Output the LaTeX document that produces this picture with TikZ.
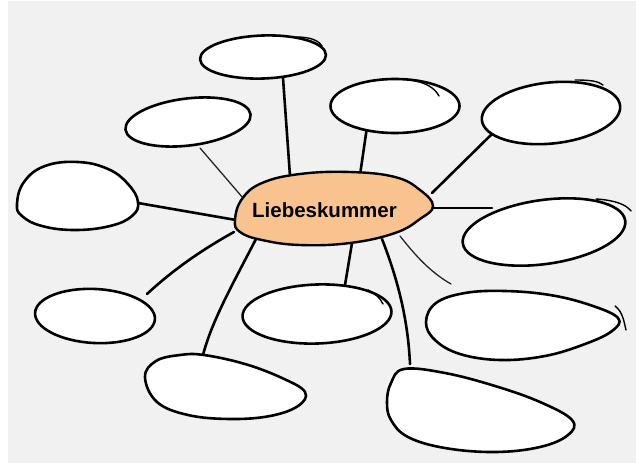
\documentclass[tikz,border=0pt]{standalone}
\usepackage{fontspec}
\setmainfont{Liberation Sans}
\definecolor{bggray}{HTML}{F1F1F1}
\definecolor{peach}{HTML}{F8C38E}
\begin{document}
\begin{tikzpicture}[x=1pt,y=-1pt,
  bubble/.style={draw=black,fill=white,line width=2.6pt,line join=round},
  conn/.style={draw=black,line width=2.6pt,line cap=round},
  thinconn/.style={draw=black!85,line width=1.3pt,line cap=round},
  scrib/.style={draw=black,line width=1.4pt,line cap=round}]
\useasboundingbox (0,0) rectangle (636,463);
\fill[white] (0,0) rectangle (636,463);
\fill[bggray] (8,1) rectangle (636,463);

% connector end points
\coordinate (e1) at (283,78);   \coordinate (s1) at (290,176);
\coordinate (e2) at (200,148);  \coordinate (s2) at (243,198);
\coordinate (e3) at (367,127);  \coordinate (s3) at (360,175);
\coordinate (e4) at (496,130);  \coordinate (s4) at (432,193);
\coordinate (e5) at (138,203);  \coordinate (s5) at (236,220);
\coordinate (e6) at (492,208);  \coordinate (s6) at (428,208);
\coordinate (e7) at (147,294);  \coordinate (s7) at (234,232);
\coordinate (e8) at (345,285);  \coordinate (s8) at (352,243);
\coordinate (e9) at (203,355);  \coordinate (s9) at (257,237);
\coordinate (e10) at (451,284); \coordinate (s10) at (400,236);
\coordinate (e11) at (410,364); \coordinate (s11) at (382,239);

% connectors (drawn first, bubbles on top)
\draw[conn] (s1) -- (e1);
\draw[thinconn] (s2) -- (e2);
\draw[conn] (s3) -- (e3);
\draw[conn] (s4) -- (e4);
\draw[conn] (s5) -- (e5);
\draw[conn] (s6) -- (e6);
\draw[conn] (s7) .. controls (205,248) and (175,268) .. (e7);
\draw[conn] (s8) -- (e8);
\draw[conn] (s9) .. controls (235,280) and (212,320) .. (e9);
\draw[thinconn] (s10) .. controls (415,255) and (430,272) .. (e10);
\draw[conn] (s11) .. controls (398,280) and (408,320) .. (e11);

% centre leaf
\draw[line width=2.4pt,fill=peach,line join=round] plot[smooth cycle,tension=0.7] coordinates
 {(235,220) (242,199) (262,183) (300,174) (350,172) (395,177) (420,190) (433,206) (420,219) (395,233) (350,243) (300,245) (262,240) (240,232)};
\node[font=\bfseries\fontsize{20.5}{24}\selectfont,anchor=base] (centre) at (324.5,217) {Liebeskummer};

% bubbles
\draw[bubble,rotate around={2:(263,57)}] (263,57) ellipse [x radius=63, y radius=21.5];
\draw[scrib] (296,37) .. controls (310,37) and (318,40) .. (322,46);

\draw[bubble,rotate around={7:(188,122)}] (188,122) ellipse [x radius=63, y radius=23.5];

\draw[bubble] (395,106) ellipse [x radius=64.5, y radius=27];
\draw[scrib] (410,80) .. controls (425,82) and (435,88) .. (439,96);

\draw[bubble,rotate around={6:(551,113)}] (551,113) ellipse [x radius=69.5, y radius=30.5];
\draw[scrib] (575,80) .. controls (590,80) and (598,81) .. (603,85);

\draw[bubble] plot[smooth cycle,tension=0.7] coordinates
 {(17,204) (24,182) (45,166) (78,162) (108,169) (128,184) (138,202) (132,216) (110,226) (75,230) (42,226) (22,216)};

\draw[bubble,rotate around={8:(544,232)}] (544,232) ellipse [x radius=82, y radius=32];
\draw[scrib] (596,199) .. controls (613,200) and (626,204) .. (631,211);

\draw[bubble,rotate around={-3:(95,316)}] (95,316) ellipse [x radius=60, y radius=27];

\draw[bubble,rotate around={2:(317,314)}] (317,314) ellipse [x radius=74.5, y radius=29.5];
\draw[scrib] (368,290) .. controls (376,294) and (380,298) .. (383,304);

\draw[bubble] plot[smooth cycle,tension=0.65] coordinates
 {(145,377) (156,361) (180,355) (204,355) (245,364) (282,378) (305,392) (298,406) (270,416) (230,419) (188,415) (157,402)};

\draw[bubble] plot[smooth cycle,tension=0.65] coordinates
 {(426,322) (436,303) (465,293) (505,291) (550,295) (590,305) (618,318) (612,331) (585,344) (545,356) (500,360) (460,354) (435,340)};
\draw[scrib] (615,306) .. controls (623,312) and (624,322) .. (626,330);

\draw[bubble] plot[smooth cycle,tension=0.65] coordinates
 {(387,402) (391,383) (404,369) (445,373) (495,386) (540,402) (572,420) (568,435) (540,447) (495,452) (445,448) (408,437) (391,420)};
\end{tikzpicture}
\end{document}
